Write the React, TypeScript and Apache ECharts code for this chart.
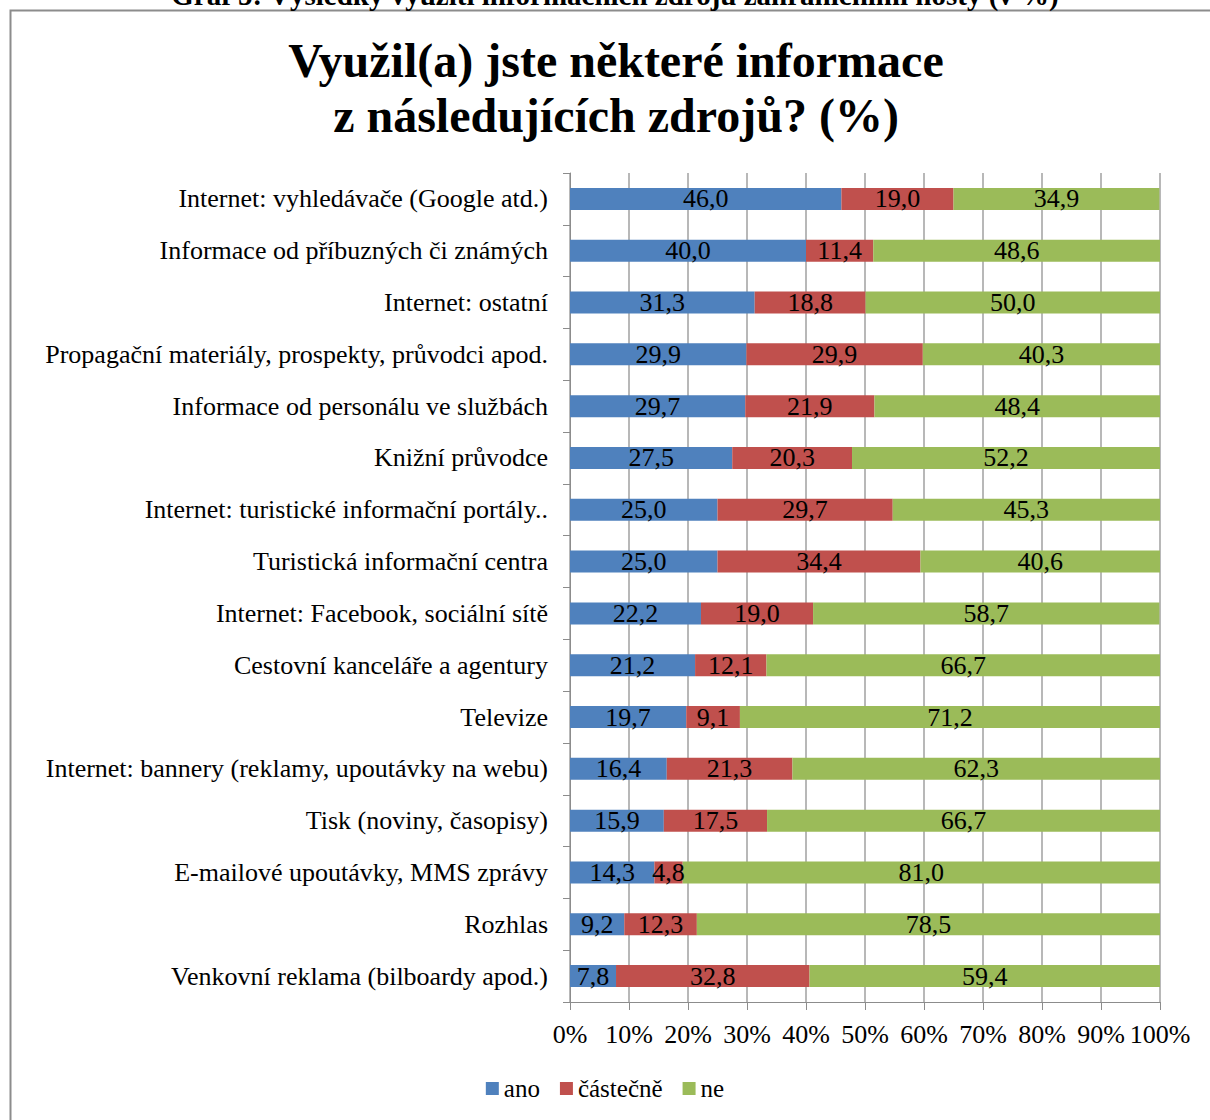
import React, { useEffect, useRef } from "react";
import * as echarts from "echarts";

const categories = [
  "Internet: vyhledávače (Google atd.)",
  "Informace od příbuzných či známých",
  "Internet: ostatní",
  "Propagační materiály, prospekty, průvodci apod.",
  "Informace od personálu ve službách",
  "Knižní průvodce",
  "Internet: turistické informační portály..",
  "Turistická informační centra",
  "Internet: Facebook, sociální sítě",
  "Cestovní kanceláře a agentury",
  "Televize",
  "Internet: bannery (reklamy, upoutávky na webu)",
  "Tisk (noviny, časopisy)",
  "E-mailové upoutávky, MMS zprávy",
  "Rozhlas",
  "Venkovní reklama (bilboardy apod.)",
];

const ano = [46.0, 40.0, 31.3, 29.9, 29.7, 27.5, 25.0, 25.0, 22.2, 21.2, 19.7, 16.4, 15.9, 14.3, 9.2, 7.8];
const castecne = [19.0, 11.4, 18.8, 29.9, 21.9, 20.3, 29.7, 34.4, 19.0, 12.1, 9.1, 21.3, 17.5, 4.8, 12.3, 32.8];
const ne = [34.9, 48.6, 50.0, 40.3, 48.4, 52.2, 45.3, 40.6, 58.7, 66.7, 71.2, 62.3, 66.7, 81.0, 78.5, 59.4];

const seriesNames = ["ano", "částečně", "ne"];
const seriesColors = ["#4F81BD", "#C0504D", "#9BBB59"];

const FONT = "'Liberation Serif', 'Times New Roman', serif";

export default function App() {
  const ref = useRef<HTMLDivElement>(null);
  useEffect(() => {
    if (!ref.current) return;
    const chart = echarts.init(ref.current, null, { renderer: "svg" });
    const data = [ano, castecne, ne];
    chart.setOption({
      animation: false,
      backgroundColor: "#ffffff",
      textStyle: { fontFamily: FONT },
      graphic: [
        {
          type: "rect",
          shape: { x: 10.5, y: 10.5, width: 1400, height: 1300 },
          style: { fill: "none", stroke: "#8c8c8c", lineWidth: 2 },
          z: 0,
        },
        {
          type: "text",
          x: 615,
          y: 9,
          style: {
            text: "Graf 5: Výsledky využití informačních zdrojů zahraničními hosty (v %)",
            font: "bold 29px " + FONT,
            fill: "#000",
            align: "center",
            verticalAlign: "bottom",
          },
        },
        {
          type: "text",
          x: 616,
          y: 88,
          style: {
            text: "Využil(a) jste některé informace\nz následujících zdrojů? (%)",
            font: "bold 48px " + FONT,
            lineHeight: 55,
            fill: "#000",
            align: "center",
            verticalAlign: "middle",
          },
        },
      ],
      legend: {
        bottom: 14,
        left: "center",
        itemWidth: 13,
        itemHeight: 13,
        itemGap: 20,
        icon: "rect",
        textStyle: { fontFamily: FONT, fontSize: 25, color: "#000" },
        data: seriesNames,
      },
      grid: { left: 570, right: 50, top: 173, bottom: 118, containLabel: false },
      xAxis: {
        type: "value",
        min: 0,
        max: 100,
        interval: 10,
        axisLine: { show: true, lineStyle: { color: "#8c8c8c", width: 1 } },
        axisTick: { show: true, length: 8, lineStyle: { color: "#8c8c8c" } },
        axisLabel: {
          formatter: "{value}%",
          fontFamily: FONT,
          fontSize: 26,
          color: "#000",
          margin: 19,
        },
        splitLine: { show: true, lineStyle: { color: "#a0a0a0", width: 1.5 } },
      },
      yAxis: {
        type: "category",
        inverse: true,
        data: categories,
        axisLine: { show: true, lineStyle: { color: "#8c8c8c", width: 1 } },
        axisTick: { show: true, inside: false, length: 7, lineStyle: { color: "#8c8c8c" } },
        axisLabel: {
          fontFamily: FONT,
          fontSize: 26,
          color: "#000",
          margin: 22,
        },
      },
      series: seriesNames.map((name, i) => ({
        name,
        type: "bar",
        stack: "total",
        barWidth: 22,
        itemStyle: { color: seriesColors[i] },
        label: {
          show: true,
          position: "inside",
          color: "#000",
          fontFamily: FONT,
          fontSize: 26,
          formatter: (p: any) => Number(p.value).toFixed(1).replace(".", ","),
        },
        data: data[i],
      })),
    });
    return () => chart.dispose();
  }, []);
  return (
    <div
      ref={ref}
      style={{ position: "absolute", left: 0, top: 0, width: 1210, height: 1120 }}
    />
  );
}
